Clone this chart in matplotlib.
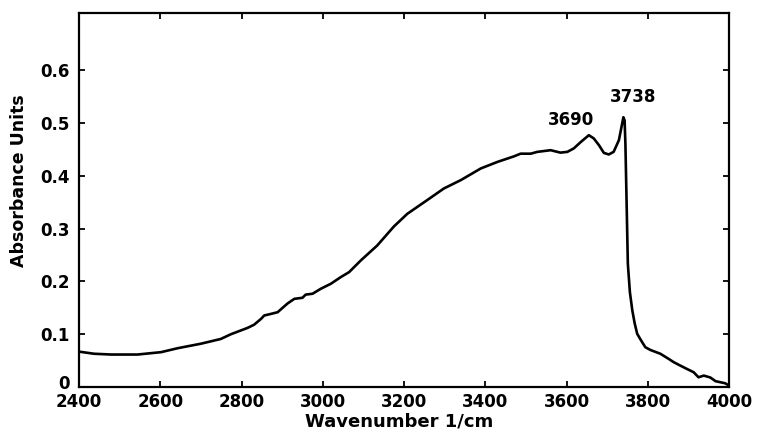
import matplotlib
matplotlib.use("Agg")
import matplotlib.pyplot as plt
from matplotlib.transforms import ScaledTranslation

# Spectrum data
wavenumber = [2400, 2437, 2479, 2544, 2602, 2643, 2700, 2749, 2774, 2798, 2815,
              2831, 2848, 2856, 2870, 2889, 2913, 2930, 2950, 2958, 2975, 2995,
              3020, 3044, 3065, 3094, 3134, 3175, 3208, 3257, 3298, 3340, 3389,
              3430, 3471, 3487, 3512, 3528, 3561, 3585, 3602, 3618, 3635, 3655,
              3667, 3680, 3692, 3704, 3716, 3729, 3737, 3740, 3743, 3745, 3748,
              3751, 3756, 3762, 3768, 3774, 3783, 3794, 3807, 3831, 3852, 3864,
              3880, 3897, 3913, 3925, 3938, 3954, 3967, 3979, 3991, 3999]
absorbance = [0.067, 0.063, 0.0615, 0.0615, 0.066, 0.0735, 0.082, 0.091, 0.1, 0.107, 0.112,
              0.118, 0.129, 0.1355, 0.138, 0.1417, 0.158, 0.167, 0.169, 0.175, 0.1767, 0.186,
              0.1956, 0.208, 0.2177, 0.240, 0.268, 0.304, 0.328, 0.354, 0.376, 0.392, 0.414,
              0.4264, 0.437, 0.442, 0.442, 0.4454, 0.4486, 0.444, 0.4454, 0.452, 0.464, 0.477,
              0.471, 0.458, 0.4435, 0.4405, 0.4454, 0.4676, 0.499, 0.511, 0.505, 0.461, 0.347,
              0.2336, 0.18, 0.145, 0.12, 0.1008, 0.089, 0.0754, 0.07, 0.063, 0.053, 0.047,
              0.0406, 0.034, 0.028, 0.0184, 0.0216, 0.018, 0.011, 0.009, 0.007, 0.003]

xticks = [2400, 2600, 2800, 3000, 3200, 3400, 3600, 3800, 4000]
yticks = [0, 0.1, 0.2, 0.3, 0.4, 0.5, 0.6]
ytick_labels = ["0", "0.1", "0.2", "0.3", "0.4", "0.5", "0.6"]
peak_labels = ["3690", "3738"]
peak_label_pos = [(3612, 0.506), (3765, 0.549)]

plt.rcParams['font.family'] = ['DejaVu Sans']
plt.rcParams['font.weight'] = 'bold'

fig = plt.figure(figsize=(7.57, 4.34), dpi=100)
ax = fig.add_axes([79/757, 1 - 387/434, 650/757, 374/434])

ax.plot(wavenumber, absorbance, color='black', lw=1.9,
        solid_joinstyle='round', solid_capstyle='round')

ax.set_xlim(2400, 4000)
ax.set_ylim(0, 0.7085)
ax.set_xticks(xticks)
ax.set_xticklabels([str(t) for t in xticks], fontsize=12, fontweight='bold')
ax.set_yticks(yticks)
ax.set_yticklabels(ytick_labels, fontsize=12, fontweight='bold')
ax.tick_params(direction='in', top=True, right=True, length=4, width=1.3)
ax.tick_params(axis='x', pad=4)
ax.tick_params(axis='y', pad=7)
zero_lab = ax.yaxis.get_major_ticks()[0].label1
zero_lab.set_transform(zero_lab.get_transform() + ScaledTranslation(0, 3.5/72, fig.dpi_scale_trans))
for s in ax.spines.values():
    s.set_linewidth(1.6)

ax.set_xlabel("Wavenumber 1/cm", fontsize=13, fontweight='bold', va='center')
ax.xaxis.set_label_coords(0.492, -0.092)
ax.set_ylabel("Absorbance Units", fontsize=12.5, fontweight='bold', va='center', ha='center')
ax.yaxis.set_label_coords(-0.092, 0.553)

for lab, (px, py) in zip(peak_labels, peak_label_pos):
    ax.text(px, py, lab, fontsize=12, fontweight='bold', ha='center', va='center')

fig.savefig("out.png", dpi=100)
